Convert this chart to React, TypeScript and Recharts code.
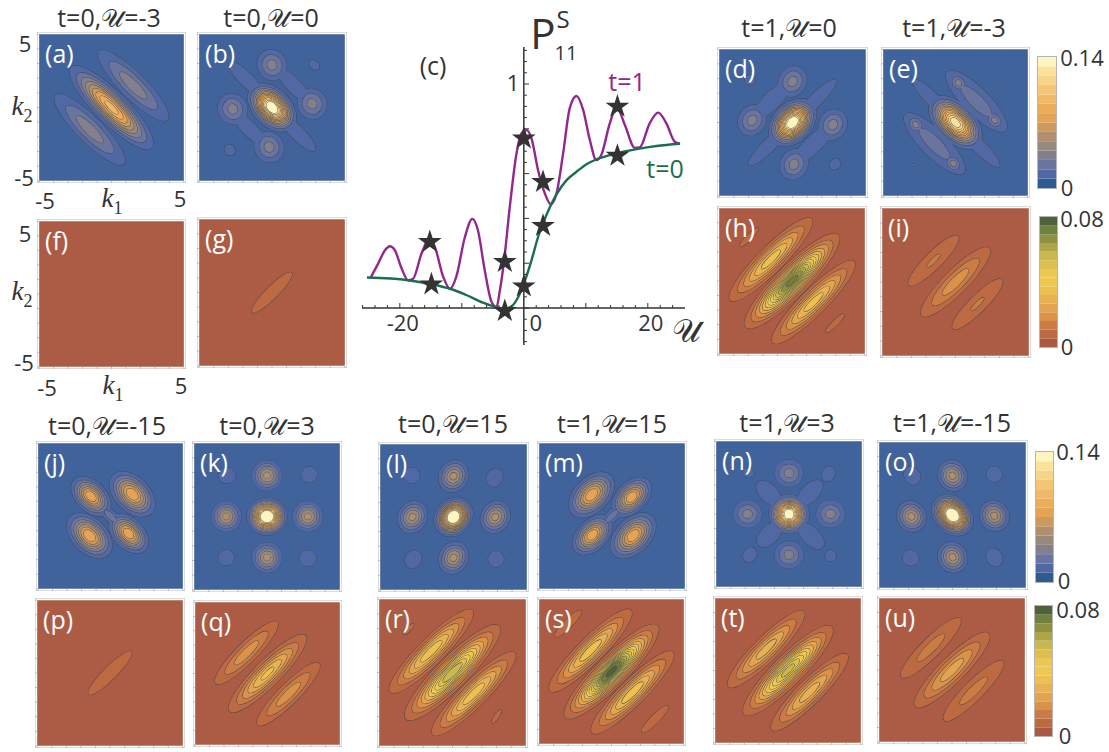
import React from 'react';
import {
  Bar,
  BarChart,
  Line,
  LineChart,
  ReferenceArea,
  ReferenceLine,
  Scatter,
  ScatterChart,
  Symbols,
  XAxis,
  YAxis,
} from 'recharts';

// curves of panel (c): [U, P]
const curveT0 = [
  [-25.3, 0.136], [-18.66, 0.124], [-14.9, 0.106], [-11.9, 0.086], [-9.2, 0.057], [-6.6, 0.024],
  [-4.4, 0.004], [-3.06, -0.003], [-2, 0.007], [-0.9, 0.049], [0, 0.109], [1.24, 0.213],
  [2.3, 0.317], [3.2, 0.385], [4.2, 0.45], [5.27, 0.507], [6.9, 0.571], [8.5, 0.608],
  [10.1, 0.642], [11.7, 0.663], [14.9, 0.69], [18.2, 0.709], [21.4, 0.723], [25.2, 0.733],
];
const curveT1 = [
  [-24.7, 0.136], [-23.5, 0.198], [-22.4, 0.258], [-21.6, 0.276], [-20.8, 0.258], [-19.7, 0.176],
  [-18.66, 0.124], [-17.85, 0.131], [-16.5, 0.243], [-15.2, 0.31], [-14.35, 0.273], [-13, 0.139],
  [-11.9, 0.086], [-10.9, 0.139], [-9.5, 0.317], [-8.3, 0.398], [-7.4, 0.347], [-6.3, 0.168],
  [-5.2, 0.027], [-4.4, 0.004], [-3.9, 0.072], [-3.2, 0.206], [-2.26, 0.452], [-1.18, 0.69],
  [-0.38, 0.779], [0.43, 0.794], [1.24, 0.757], [2.3, 0.615], [3.4, 0.511], [4.35, 0.463],
  [5.27, 0.511], [6.34, 0.69], [7.4, 0.891], [8.5, 0.946], [9.57, 0.884], [10.65, 0.75],
  [11.7, 0.66], [12.5, 0.683], [13.87, 0.824], [15, 0.896], [16.3, 0.817], [17.9, 0.715],
  [18.7, 0.717], [20.3, 0.824], [21.67, 0.872], [23, 0.824], [24.35, 0.742], [25.2, 0.733],
];
const stars = [
  [-15.16, 0.295], [-14.9, 0.106], [-3.06, 0.206], [-3.06, -0.013], [0, 0.757],
  [0, 0.097], [3.1, 0.563], [3.1, 0.367], [15.1, 0.899], [15.1, 0.68],
];
const xTicksC = [-26, -24, -22, -20, -18, -16, -14, -12, -10, -8, -6, -4, -2, 0, 2, 4, 6, 8, 10, 12, 14, 16, 18, 20, 22, 24];
const yTicksC = [-0.15, -0.1, -0.05, 0, 0.05, 0.1, 0.15, 0.2, 0.25, 0.3, 0.35, 0.4, 0.45, 0.5, 0.55, 0.6, 0.65, 0.7, 0.75, 0.8, 0.85, 0.9, 0.95, 1, 1.05, 1.1, 1.15];

const blueLevels = ['#2d5c92', '#5069a5', '#6a759f', '#82808f', '#98897f', '#b08f6e', '#cd9a5d', '#e5a355', '#ecad5b', '#f0b969', '#f4c577', '#f8d489', '#fbe199', '#fdf5bf'];
const brownLevels = ['#ab5843', '#bd6a43', '#cb7c45', '#da9148', '#e2a44e', '#e8b252', '#edc050', '#efc851', '#ebc852', '#dcc04f', '#c9b84c', '#aea646', '#8e9140', '#70803f', '#4f6239'];

// density lobes: [k1, k2, long half axis, short half axis, angle, peak level]
const lobesA = [[0, 0, 4, 1.1, -45, 9.5], [1.5, 1.5, 3.4, 0.88, -45, 3.6], [-1.5, -1.5, 3.4, 0.88, -45, 3.6]];
const lobesB = [
  [0, 0, 2, 1.3, -45, 15], [0, 2.9, 1.1, 1, -60, 3.4], [2.75, 0.25, 1.1, 1, -60, 3.4], [-2.7, -0.1, 1.1, 1, -60, 3.4], [-0.2, -2.7, 1.1, 1, -60, 3.4],
  [-1.75, 1.9, 1.7, 0.48, -45, 1], [1.5, 1.5, 1.5, 0.5, -45, 1], [-1.5, -1.5, 1.5, 0.5, -45, 1], [1.75, -1.75, 1.7, 0.48, -45, 1],
  [2.9, 2.9, 0.4, 0.3, -45, 1], [-2.9, -2.9, 0.4, 0.35, -45, 1],
];
const lobesD = [
  [0, 0, 1.9, 1.35, 45, 15], [0, 2.8, 1.1, 0.95, 60, 3.4], [-2.75, 0.15, 1.1, 0.95, 60, 3.4], [2.75, -0.15, 1.1, 0.95, 60, 3.4], [0.1, -2.85, 1.1, 0.95, 60, 3.4],
  [1.5, 1.45, 2.1, 0.45, 45, 1], [-1.5, -1.45, 2.1, 0.45, 45, 1], [-1.4, 1.5, 2, 0.58, 45, 1], [1.4, -1.5, 2, 0.58, 45, 1],
  [-2.9, 2.9, 0.35, 0.35, 0, 1], [2.9, -2.85, 0.4, 0.35, 45, 1],
];
const lobesE = [
  [0, 0, 2.3, 1.3, -45, 13], [1.45, 1.45, 2.9, 0.9, -45, 2.5], [-1.45, -1.45, 2.9, 0.9, -45, 2.5],
  [0.2, 2.7, 0.7, 0.55, -45, 3.4], [2.7, 0.15, 0.7, 0.55, -45, 3.4], [-2.75, -0.15, 0.7, 0.55, -45, 3.4], [-0.15, -2.8, 0.7, 0.55, -45, 3.4],
  [-1.6, 1.6, 1.9, 0.45, -45, 1], [1.7, -1.7, 1.9, 0.45, -45, 1], [2.9, 2.9, 0.1, 0.08, 0, 1], [-2.9, -2.9, 0.12, 0.08, 0, 1],
];
const lobesF = [[0, 0, 0, 0, 0, 1]];
const lobesG = [[0, 0, 1.95, 0.42, 45, 1]];
const lobesH = [
  [0, 0, 4.55, 1.1, 45, 13.5], [-1.45, 1.48, 4, 0.9, 45, 6.6], [1.48, -1.45, 4, 0.9, 45, 6.6],
  [-2.95, 3, 0.9, 0.2, 45, 1], [2.95, -2.9, 0.9, 0.2, 45, 1],
];
const lobesI = [[0, 0, 3.3, 0.82, 45, 3.6], [-1.5, 1.45, 2.4, 0.58, 45, 2.1], [1.5, -1.5, 2.4, 0.58, 45, 2.1]];
const lobesJ = [
  [-1.35, 1.35, 1.65, 1.05, -45, 8], [1.5, 1.5, 1.9, 1.2, -45, 8], [-1.45, -1.35, 1.9, 1.2, -45, 8], [1.25, -1.2, 1.65, 1.05, -45, 8],
  [0, 0, 1.1, 0.4, -45, 2.5],
];
const lobesK = [
  [0, 0, 1.4, 1.3, 0, 17], [0, 2.8, 1.05, 1.05, 0, 5.4], [-2.8, 0, 1.05, 1.05, 0, 5.4], [2.8, 0, 1.05, 1.05, 0, 5.4], [0, -2.8, 1.05, 1.05, 0, 5.4],
  [-2.75, 2.8, 0.6, 0.55, 0, 1], [2.9, 2.85, 0.55, 0.55, 0, 1], [-2.8, -2.8, 0.55, 0.55, 0, 1], [2.8, -2.85, 0.6, 0.55, 0, 1],
];
const lobesL = [
  [0, 0, 1.45, 1.25, 45, 17], [0, 2.8, 1.15, 1, 60, 5.4], [-2.8, 0, 1.15, 1, 60, 5.4], [2.85, 0, 1.15, 1, 60, 5.4], [0, -2.8, 1.15, 1, 60, 5.4],
  [-2.85, 2.85, 0.55, 0.55, 0, 1], [2.8, 2.7, 0.65, 0.55, 60, 1], [-2.75, -2.9, 0.65, 0.55, 60, 1], [2.9, -2.9, 0.55, 0.55, 0, 1],
];
const lobesM = [
  [-1.4, 1.45, 1.9, 1.2, 45, 8], [1.35, 1.3, 1.65, 1.05, 45, 8], [-1.35, -1.3, 1.65, 1.05, 45, 8], [1.45, -1.35, 1.9, 1.2, 45, 8],
  [0, 0, 1.1, 0.4, 45, 2.5],
];
const lobesN = [
  [0, 0, 1.4, 1.35, 0, 15], [0, 2.8, 1, 0.95, 0, 3.4], [-2.85, 0, 1, 0.95, 0, 3.4], [2.85, 0, 1, 0.95, 0, 3.4], [0, -2.8, 1, 0.95, 0, 3.4],
  [-2.8, 2.85, 0.4, 0.35, 0, 1], [2.7, 2.75, 0.55, 0.45, 60, 1], [-2.7, -2.8, 0.55, 0.45, 60, 1], [2.85, -2.85, 0.4, 0.4, 0, 1],
  [-1.4, 1.45, 1.05, 0.62, -45, 1], [1.45, 1.45, 1.1, 0.6, 45, 1], [-1.35, -1.43, 1.05, 0.62, 45, 1], [1.5, -1.5, 1.15, 0.6, -45, 1],
];
const lobesO = [
  [0, 0, 1.6, 1.25, -45, 17], [0, 2.7, 1.1, 1, -60, 5.4], [-2.8, -0.1, 1.1, 1, -60, 5.4], [2.85, -0.05, 1.1, 1, -60, 5.4], [0, -2.9, 1.1, 1, -60, 5.4],
  [-2.75, 2.7, 0.65, 0.55, -60, 1], [2.85, 2.8, 0.55, 0.55, 0, 1], [-2.85, -2.95, 0.55, 0.55, 0, 1], [2.85, -2.9, 0.65, 0.55, -60, 1],
];
const lobesP = [[0, 0, 2.1, 0.45, 45, 1]];
const lobesQ = [[0, 0, 3.75, 0.92, 45, 6.3], [-1.45, 1.45, 3.05, 0.72, 45, 3.6], [1.45, -1.45, 3.05, 0.72, 45, 3.6]];
const lobesR = [
  [0, 0, 4.55, 1.08, 45, 11], [-1.45, 1.45, 4, 0.9, 45, 6.8], [1.45, -1.45, 4, 0.9, 45, 6.8],
  [-3, 2.95, 0.5, 0.15, 45, 1], [3, -3, 0.55, 0.15, 55, 1],
];
const lobesS = [
  [0, 0, 4.55, 1.1, 45, 14.5], [-1.45, 1.45, 4, 0.9, 45, 6.8], [1.45, -1.45, 4, 0.9, 45, 6.8],
  [-3, 3.3, 1.3, 0.3, 45, 1], [3, -3.3, 1.3, 0.3, 45, 1],
];
const lobesT = [[0, 0, 4.3, 1.05, 45, 10.5], [-1.5, 1.48, 3.7, 0.85, 45, 5.6], [1.48, -1.5, 3.7, 0.85, 45, 5.6]];
const lobesU = [[0, 0, 3.6, 0.9, 45, 4.6], [-1.45, 1.55, 2.9, 0.68, 45, 2.4], [1.48, -1.45, 2.9, 0.68, 45, 2.4]];

const panels: [string, string, number[][]][] = [
  ['a', 'blue', lobesA], ['b', 'blue', lobesB], ['d', 'blue', lobesD], ['e', 'blue', lobesE],
  ['f', 'brown', lobesF], ['g', 'brown', lobesG], ['h', 'brown', lobesH], ['i', 'brown', lobesI],
  ['j', 'blue', lobesJ], ['k', 'blue', lobesK], ['l', 'blue', lobesL], ['m', 'blue', lobesM],
  ['n', 'blue', lobesN], ['o', 'blue', lobesO], ['p', 'brown', lobesP], ['q', 'brown', lobesQ],
  ['r', 'brown', lobesR], ['s', 'brown', lobesS], ['t', 'brown', lobesT], ['u', 'brown', lobesU],
];

const titles: [string, number, number][] = [
  ['t=0,𝒰=-3', 109, 17], ['t=0,𝒰=0', 271, 17], ['t=1,𝒰=0', 789, 27], ['t=1,𝒰=-3', 954, 27],
  ['t=0,𝒰=-15', 107, 425], ['t=0,𝒰=3', 267, 425], ['t=0,𝒰=15', 453, 423], ['t=1,𝒰=15', 612, 423],
  ['t=1,𝒰=3', 787, 422], ['t=1,𝒰=-15', 952, 422],
];

// layout, not data: outer frame of every small panel [left, top, right, bottom]
const FRAMES: Record<string, number[]> = {
  a: [38, 33, 185, 182], b: [198, 33, 346, 182], f: [38, 220, 185, 368], g: [198, 218, 346, 367],
  d: [718, 48, 867, 197], e: [882, 48, 1029, 197], h: [718, 207, 866, 355], i: [881, 207, 1030, 357],
  j: [37, 442, 184, 590], k: [193, 442, 341, 591], p: [36, 599, 184, 747], q: [194, 601, 341, 746],
  l: [379, 443, 528, 591], m: [538, 442, 686, 590], r: [378, 598, 527, 747], s: [538, 598, 685, 745],
  n: [715, 440, 863, 588], o: [878, 441, 1027, 589], t: [714, 597, 862, 744], u: [878, 597, 1026, 743],
};
const K_EDGE = 5.15;
const K_TICKS = [-5, -4, -3, -2, -1, 0, 1, 2, 3, 4, 5];
const FONT = '"Open Sans", "Noto Sans", sans-serif';
const INK = '#333';
const FRAME_GREY = '#b9b9b9';

function Txt({ x, y, size, children, color = INK, font = FONT, left = false }: any) {
  return (
    <div
      style={{
        position: 'absolute',
        left: x,
        top: y,
        transform: left ? 'translateY(-50%)' : 'translate(-50%,-50%)',
        fontFamily: font,
        fontSize: size,
        color,
        lineHeight: 1,
        whiteSpace: 'nowrap',
      }}
    >
      {children}
    </div>
  );
}

// share of a lobe's outer size that lies inside contour level L (gaussian-like)
function levelScale(peak: number, level: number) {
  if (peak <= 1) return level === 1 ? 1 : 0;
  if (level >= peak) return 0;
  return Math.sqrt(Math.log(peak / level) / Math.log(peak));
}

function ContourPanel({ id, kind, lobes }: { id: string; kind: string; lobes: number[][] }) {
  const [x0, y0, x1, y1] = FRAMES[id];
  const plotW = x1 - x0;
  const plotH = y1 - y0;
  const ux = plotW / (2 * K_EDGE);
  const uy = plotH / (2 * K_EDGE);
  const colors = kind === 'blue' ? blueLevels : brownLevels;
  const bg = kind === 'blue' ? '#40639b' : '#ac5c44';
  const points = lobes.map(([k1, k2, a, b, angle, peak]) => ({ k1, k2, a, b, angle, peak }));

  const layers: React.ReactNode[] = [];
  for (let level = 1; level < colors.length; level++) {
    const data = points.filter((p) => levelScale(p.peak, level) > 0);
    if (data.length === 0) break;
    const makeShape = (outline: boolean) => (props: any) => {
      const p = props.payload;
      const s = levelScale(p.peak, level);
      return (
        <ellipse
          cx={props.cx}
          cy={props.cy}
          rx={p.a * s * ux}
          ry={p.b * s * uy}
          transform={`rotate(${-p.angle} ${props.cx} ${props.cy})`}
          fill={colors[level]}
          stroke={outline ? '#45454a' : 'none'}
          strokeOpacity={0.85}
          strokeWidth={outline ? 1 : 0}
        />
      );
    };
    layers.push(<Scatter key={`o${level}`} data={data} shape={makeShape(true)} isAnimationActive={false} />);
    layers.push(<Scatter key={`f${level}`} data={data} shape={makeShape(false)} isAnimationActive={false} />);
  }

  const axisProps = {
    type: 'number' as const,
    domain: [-K_EDGE, K_EDGE],
    ticks: K_TICKS,
    interval: 0,
    mirror: true,
    tickSize: 2,
    tickFormatter: () => '',
    stroke: FRAME_GREY,
  };

  return (
    <div style={{ position: 'absolute', left: x0 - 1, top: y0 - 1 }}>
      <ScatterChart width={plotW + 2} height={plotH + 2} margin={{ top: 0, right: 0, bottom: 0, left: 0 }}>
        <XAxis dataKey="k1" height={1} {...axisProps} />
        <XAxis xAxisId="top" orientation="top" height={1} {...axisProps} />
        <YAxis dataKey="k2" width={1} {...axisProps} />
        <YAxis yAxisId="right" orientation="right" width={1} {...axisProps} />
        <ReferenceArea x1={-5} x2={5} y1={-5} y2={5} fill={bg} fillOpacity={1} stroke="none" />
        {layers}
      </ScatterChart>
      <Txt x={8} y={21} size={25} color="#fff" left>
        ({id})
      </Txt>
    </div>
  );
}

function ColorBar({ left, top, width, height, colors }: any) {
  const row: Record<string, any> = { name: 'bar' };
  colors.forEach((_: string, i: number) => {
    row[`l${i}`] = 1;
  });
  return (
    <div style={{ position: 'absolute', left, top, outline: '1px solid #b5b5b5' }}>
      <BarChart width={width} height={height} data={[row]} margin={{ top: 0, right: 0, bottom: 0, left: 0 }} barCategoryGap={0}>
        <XAxis dataKey="name" hide />
        <YAxis hide domain={[0, colors.length]} />
        {colors.map((c: string, i: number) => (
          <Bar key={c} dataKey={`l${i}`} stackId="a" fill={c} isAnimationActive={false} />
        ))}
      </BarChart>
    </div>
  );
}

// panel (c) sits in its own chart; axes cross at U=0, P=0
const C_LEFT = 340;
const C_WIDTH = 380;
const C_HEIGHT = 370;
const AXIS_X = 524 - C_LEFT;
const AXIS_Y = 308;

function XTickC({ x, payload }: any) {
  const v = payload.value;
  const major = v % 10 === 0;
  const label = v === -20 || v === 20 ? String(v) : v === 0 ? '0' : null;
  return (
    <g>
      {v !== 0 && <line x1={x} x2={x} y1={AXIS_Y} y2={AXIS_Y - (major ? 5 : 3)} stroke={INK} strokeWidth={1} />}
      {label && (
        <text x={x + (v === 0 ? 12 : 3)} y={AXIS_Y + 23} textAnchor="middle" fontFamily={FONT} fontSize={22} fill={INK}>
          {label}
        </text>
      )}
    </g>
  );
}

function YTickC({ y, payload }: any) {
  const v = payload.value;
  const major = Math.abs(v * 5 - Math.round(v * 5)) < 0.001;
  return (
    <g>
      <line x1={AXIS_X} x2={AXIS_X + (major ? 5 : 3)} y1={y} y2={y} stroke={INK} strokeWidth={1} />
      {v === 1 && (
        <text x={AXIS_X - 11} y={y + 7} textAnchor="middle" fontFamily={FONT} fontSize={22} fill={INK}>
          1
        </text>
      )}
    </g>
  );
}

function StarDot({ cx, cy, index }: any) {
  return <Symbols key={index} cx={cx} cy={cy} type="star" size={175} fill="#333" stroke="none" />;
}

function CurvePanel() {
  const t0 = curveT0.map(([u, p]) => ({ u, p }));
  const t1 = curveT1.map(([u, p]) => ({ u, p }));
  const marks = stars.map(([u, p]) => ({ u, p }));
  return (
    <div style={{ position: 'absolute', left: C_LEFT, top: 0 }}>
      <LineChart width={C_WIDTH} height={C_HEIGHT} margin={{ top: 47, right: 35, bottom: 24, left: 21 }}>
        <XAxis
          dataKey="u"
          type="number"
          domain={[-26.1, 26]}
          ticks={xTicksC}
          interval={0}
          height={1}
          axisLine={false}
          tickLine={false}
          tick={<XTickC />}
        />
        <YAxis
          type="number"
          domain={[-0.165, 1.165]}
          ticks={yTicksC}
          interval={0}
          width={1}
          axisLine={false}
          tickLine={false}
          tick={<YTickC />}
        />
        <ReferenceLine y={0} stroke={INK} strokeWidth={1.5} />
        <ReferenceLine x={0} stroke={INK} strokeWidth={1.5} />
        <Line data={t1} dataKey="p" type="monotone" stroke="#92288f" strokeWidth={2.4} dot={false} isAnimationActive={false} />
        <Line data={t0} dataKey="p" type="monotone" stroke="#1a6e4d" strokeWidth={2.4} dot={false} isAnimationActive={false} />
        <Line data={marks} dataKey="p" stroke="none" dot={<StarDot />} isAnimationActive={false} />
      </LineChart>
    </div>
  );
}

export default function App() {
  const sans = { size: 22 };
  const kFont = '"Liberation Serif", serif';
  return (
    <div style={{ position: 'absolute', left: 0, top: 0, width: 1109, height: 752, background: '#fff', overflow: 'hidden' }}>
      {panels.map(([id, kind, lobes]) => (
        <ContourPanel key={id} id={id} kind={kind} lobes={lobes} />
      ))}
      <CurvePanel />

      {titles.map(([text, x, y]) => (
        <Txt key={text} x={x} y={y} size={25}>
          {text}
        </Txt>
      ))}

      {/* k axes of (a) and (f) */}
      <Txt x={25} y={43} {...sans}>5</Txt>
      <Txt x={24} y={177} {...sans}>-5</Txt>
      <Txt x={45} y={200} {...sans}>-5</Txt>
      <Txt x={180} y={198} {...sans}>5</Txt>
      <Txt x={22} y={109} size={27} font={kFont}><i>k</i><sub style={{ fontSize: 18 }}>2</sub></Txt>
      <Txt x={112} y={201} size={27} font={kFont}><i>k</i><sub style={{ fontSize: 18 }}>1</sub></Txt>
      <Txt x={25} y={233} {...sans}>5</Txt>
      <Txt x={24} y={362} {...sans}>-5</Txt>
      <Txt x={47} y={387} {...sans}>-5</Txt>
      <Txt x={181} y={385} {...sans}>5</Txt>
      <Txt x={22} y={294} size={27} font={kFont}><i>k</i><sub style={{ fontSize: 18 }}>2</sub></Txt>
      <Txt x={113} y={388} size={27} font={kFont}><i>k</i><sub style={{ fontSize: 18 }}>1</sub></Txt>

      {/* panel (c) labels */}
      <Txt x={433} y={65} size={25}>(c)</Txt>
      <Txt x={543} y={33} size={42}>P</Txt>
      <Txt x={563} y={19} size={24}>S</Txt>
      <Txt x={566} y={53} size={20}>11</Txt>
      <Txt x={627} y={81} size={25} color="#92288f">t=1</Txt>
      <Txt x={665} y={168} size={25} color="#1a6e4d">t=0</Txt>
      <Txt x={686} y={330} size={32}>𝒰</Txt>

      {/* colour bars */}
      <ColorBar left={1038} top={57} width={18} height={131} colors={blueLevels} />
      <ColorBar left={1040} top={217} width={17} height={130} colors={brownLevels} />
      <ColorBar left={1036} top={452} width={17} height={130} colors={blueLevels} />
      <ColorBar left={1035} top={606} width={17} height={130} colors={brownLevels} />
      <Txt x={1082} y={57} {...sans}>0.14</Txt>
      <Txt x={1067} y={187} {...sans}>0</Txt>
      <Txt x={1082} y={218} {...sans}>0.08</Txt>
      <Txt x={1067} y={346} {...sans}>0</Txt>
      <Txt x={1078} y={451} {...sans}>0.14</Txt>
      <Txt x={1064} y={580} {...sans}>0</Txt>
      <Txt x={1078} y={609} {...sans}>0.08</Txt>
      <Txt x={1065} y={735} {...sans}>0</Txt>
    </div>
  );
}
